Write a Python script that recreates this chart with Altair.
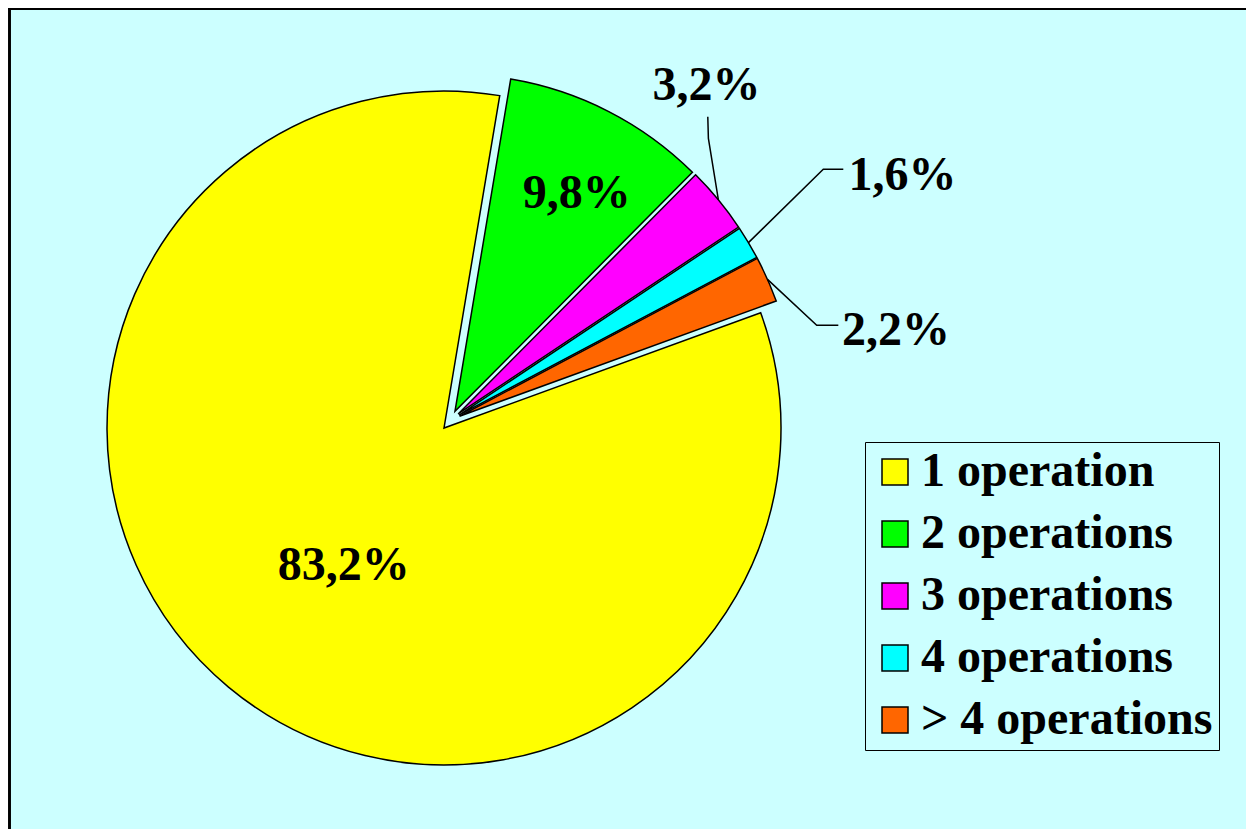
import math
import altair as alt
import pandas as pd

# ---------------- data ----------------
categories = ["1 operation", "2 operations", "3 operations", "4 operations", "> 4 operations"]
values = [83.2, 9.8, 3.2, 1.6, 2.2]
labels = ["83,2%", "9,8%", "3,2%", "1,6%", "2,2%"]
colors = ["#FFFF00", "#00FF00", "#FF00FF", "#00FFFF", "#FF6600"]

# ---------------- layout (chart pixels) ----------------
W, H = 1238, 821
CX, CY = 442.4, 412.3
R = 337
EXPLODE = 10
START_DEG = 70
FONT = "Liberation Serif"
BG = "#CCFFFF"
label_dist = [192.1, 247.0, 410.1, 507.4, 451.9]
label_turn = [-6.0, 3.6, -11.9, 3.8, 14.4]
leader_offsets = {
    2: [(1.8, 38.3), (1.2, 16.7)],
    3: [(-79.2, -20.7), (-59.2, -20.7)],
    4: [(-79.3, -20.0), (-57.7, -20.0)],
}

total = sum(values)
rows, lead = [], []
cum = 0.0
for i, (c, v, l) in enumerate(zip(categories, values, labels)):
    a0 = math.radians(START_DEG) + cum / total * 2 * math.pi
    cum += v
    a1 = math.radians(START_DEG) + cum / total * 2 * math.pi
    mid = (a0 + a1) / 2
    cx = CX + EXPLODE * math.sin(mid)
    cy = CY - EXPLODE * math.cos(mid)
    la = mid + math.radians(label_turn[i])
    lx = CX + label_dist[i] * math.sin(la)
    ly = CY - label_dist[i] * math.cos(la)
    rows.append(dict(cat=c, val=v, label=l, a0=a0, a1=a1, cx=cx, cy=cy, lx=lx, ly=ly))
    if i in leader_offsets:
        pts = [(cx + R * math.sin(mid), cy - R * math.cos(mid))]
        pts += [(lx + dx, ly + dy) for dx, dy in leader_offsets[i]]
        for k, (px, py) in enumerate(pts):
            lead.append(dict(label=l, k=k, px=px, py=py))

df = pd.DataFrame(rows)
ldf = pd.DataFrame(lead)

arcs = alt.Chart(df).mark_arc(radius=R, stroke="black", strokeWidth=1.5).encode(
    theta=alt.Theta("a0:Q", scale=None),
    theta2="a1:Q",
    x=alt.X("cx:Q", scale=None),
    y=alt.Y("cy:Q", scale=None),
    color=alt.Color(
        "cat:N",
        scale=alt.Scale(domain=categories, range=colors),
        legend=alt.Legend(
            title=None,
            orient="none",
            legendX=857,
            legendY=434,
            symbolType="square",
            symbolSize=676,
            symbolStrokeColor="black",
            symbolStrokeWidth=1.5,
            labelFont=FONT,
            labelFontSize=48,
            labelFontWeight="bold",
            labelColor="black",
            labelOffset=2,
            labelLimit=0,
            rowPadding=14,
            padding=6,
            strokeColor="black",
            fillColor=BG,
        ),
    ),
)

leaders = alt.Chart(ldf).mark_line(color="black", strokeWidth=1.5).encode(
    x=alt.X("px:Q", scale=None),
    y=alt.Y("py:Q", scale=None),
    detail="label:N",
    order="k:Q",
)

texts = alt.Chart(df).mark_text(
    font=FONT, fontSize=48, fontWeight="bold", align="center", baseline="alphabetic", color="black"
).encode(
    x=alt.X("lx:Q", scale=None),
    y=alt.Y("ly:Q", scale=None),
    text="label:N",
)

top_border = alt.Chart(df).mark_rule(color="black", strokeWidth=2).encode(
    x=alt.value(0), x2=alt.value(W), y=alt.value(1)
)
left_border = alt.Chart(df).mark_rule(color="black", strokeWidth=2).encode(
    x=alt.value(1.5), y=alt.value(0), y2=alt.value(H)
)

chart = (
    alt.layer(arcs, leaders, texts, top_border, left_border)
    .properties(width=W, height=H, padding=0, background=BG,
                autosize=alt.AutoSizeParams(type="none"))
    .configure_view(stroke="transparent", fill=BG)
)

chart.save("out.html", embed_options={"renderer": "svg", "actions": False})
